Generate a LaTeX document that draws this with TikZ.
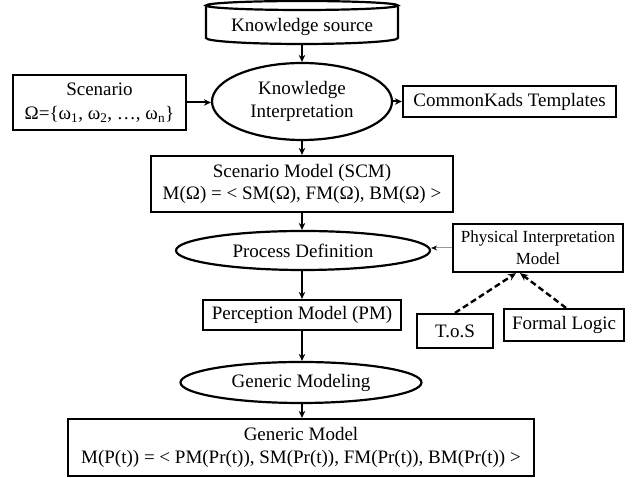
\documentclass[tikz,border=0pt]{standalone}
\usepackage{fontspec}
\setmainfont{Liberation Serif}
\usetikzlibrary{arrows.meta,shapes.geometric,calc}
\newcommand\fsbig{\fontsize{19pt}{22.5pt}\selectfont}
\newcommand\fssmall{\fontsize{17pt}{22pt}\selectfont}
\begin{document}
\begin{tikzpicture}[x=1pt,y=1pt,
  box/.style={draw, line width=2.2pt, rectangle, inner sep=0pt, align=center, font=\fsbig},
  ell/.style={draw, line width=2.2pt, ellipse, inner sep=0pt, align=center, font=\fsbig},
  arr/.style={line width=2pt, -{Stealth[length=7pt,width=6.5pt]}},
  thinarr/.style={line width=1pt, draw=gray!80, -{Stealth[length=6pt,width=5pt,color=black]}},
  dasharr/.style={line width=2.4pt, dash pattern=on 6pt off 3.5pt, -{Stealth[length=8pt,width=7pt]}}]
\useasboundingbox (0,0) rectangle (633,478);

% Knowledge source (drum shape)
\draw[line width=2.2pt] (302,472.5) ellipse [x radius=96, y radius=4.5];
\draw[line width=2.2pt] (206,472.5) -- (206,440) arc[start angle=180, end angle=360, x radius=96, y radius=6] -- (398,472.5);
\node[inner sep=0pt, minimum width=192pt, minimum height=34pt, font=\fsbig] (ks) at (302,451) {Knowledge source};

\node[ell, minimum width=180pt, minimum height=77pt] (ki) at (302,376.5) {Knowledge\\Interpretation};
\node[box, minimum width=173pt, minimum height=55pt] (scen) at (99.5,375.5)
  {Scenario\\[2pt]Ω=\{ω\textsubscript{1}, ω\textsubscript{2}, …, ω\textsubscript{n}\}};
\node[box, minimum width=213pt, minimum height=31pt] (ck) at (509.5,376.5) {CommonKads Templates};
\node[box, minimum width=302pt, minimum height=56pt] (scm) at (302,294)
  {Scenario Model (SCM)\\M(Ω) = < SM(Ω), FM(Ω), BM(Ω) >};
\node[ell, minimum width=254pt, minimum height=39pt] (pd) at (303,227.5) {Process Definition};
\node[box, minimum width=170pt, minimum height=48pt, font=\fssmall] (phys) at (538,230)
  {Physical Interpretation\\Model};
\node[box, minimum width=198pt, minimum height=30pt] (pm) at (302,163) {Perception Model (PM)};
\node[box, minimum width=76pt, minimum height=34pt] (tos) at (455,147) {T.o.S};
\node[box, minimum width=120pt, minimum height=32pt] (fl) at (564,153) {Formal Logic};
\node[ell, minimum width=241pt, minimum height=41pt] (gm) at (301,95.5) {Generic Modeling};
\node[box, minimum width=466pt, minimum height=57pt] (gmod) at (301,30.5)
  {Generic Model\\M(P(t)) = < PM(Pr(t)), SM(Pr(t)), FM(Pr(t)), BM(Pr(t)) >};

\draw[arr] (ks.south) -- (ks.south |- ki.north);
\draw[arr] (scen.east) -- (scen.east -| ki.west);
\draw[arr] (ki.east) -- (ck.west);
\draw[arr] (ki.south) -- (ki.south |- scm.north);
\draw[arr] (scm.south) -- (scm.south |- pd.north);
\draw[thinarr] (phys.west) -- (phys.west -| pd.east);
\draw[arr] ([xshift=-1pt]pd.south) -- ([xshift=-1pt]pd.south |- pm.north);
\draw[arr] (pm.south) -- (pm.south |- gm.north);
\draw[arr] ([xshift=1pt]gm.south) -- ([xshift=1pt]gm.south |- gmod.north);
\draw[dasharr] (tos.north) -- ([xshift=-22pt]phys.south);
\draw[dasharr] ([xshift=2pt]fl.north) -- ([xshift=-18pt]phys.south);
\end{tikzpicture}
\end{document}
